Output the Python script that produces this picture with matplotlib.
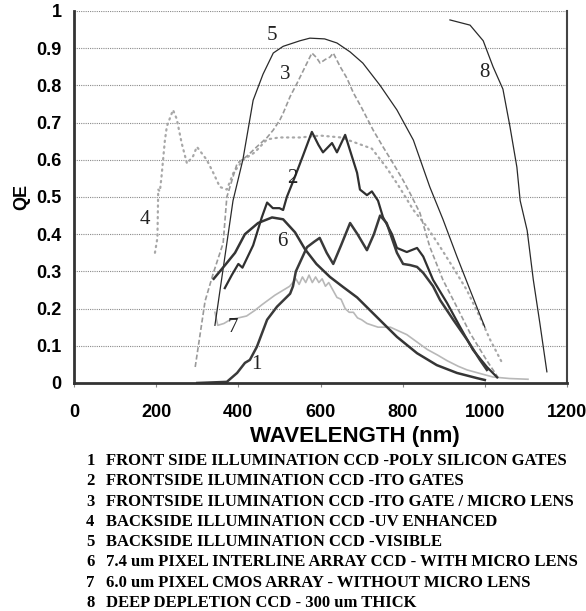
import numpy as np
import matplotlib.pyplot as plt

# valeurs (longueur d'onde en nm, QE)
nm1 = [300, 372, 397, 416, 428, 445, 470, 494, 526, 533, 540, 567, 585, 598, 615, 631, 650, 672, 690, 713, 730, 745, 761, 786, 801, 818, 835, 850, 874, 891, 923, 957, 988, 1005]
qe1 = [0.0, 0.003, 0.027, 0.054, 0.062, 0.097, 0.17, 0.205, 0.24, 0.26, 0.30, 0.365, 0.38, 0.39, 0.35, 0.32, 0.37, 0.43, 0.40, 0.357, 0.40, 0.45, 0.43, 0.35, 0.32, 0.317, 0.312, 0.296, 0.26, 0.223, 0.17, 0.116, 0.062, 0.035]

nm2 = [367, 384, 400, 410, 423, 436, 457, 470, 484, 500, 509, 518, 538, 557, 579, 595, 606, 628, 640, 660, 679, 689, 696, 713, 725, 740, 752, 774, 786, 810, 835, 850, 874, 908, 940, 971, 1005, 1030]
qe2 = [0.255, 0.29, 0.32, 0.31, 0.34, 0.37, 0.445, 0.485, 0.47, 0.47, 0.465, 0.5, 0.555, 0.61, 0.675, 0.64, 0.62, 0.645, 0.62, 0.667, 0.6, 0.565, 0.52, 0.505, 0.515, 0.49, 0.446, 0.40, 0.363, 0.352, 0.363, 0.34, 0.277, 0.215, 0.15, 0.089, 0.043, 0.015]

nm3 = [295, 319, 339, 363, 372, 397, 421, 445, 470, 485, 501, 509, 526, 543, 567, 579, 590, 599, 612, 623, 631, 648, 664, 680, 700, 728, 752, 777, 801, 818, 842, 866, 898, 932, 964, 1005, 1035]
qe3 = [0.043, 0.22, 0.295, 0.376, 0.5, 0.59, 0.61, 0.635, 0.66, 0.68, 0.707, 0.725, 0.77, 0.806, 0.86, 0.887, 0.875, 0.86, 0.87, 0.876, 0.887, 0.85, 0.82, 0.78, 0.74, 0.68, 0.635, 0.59, 0.545, 0.51, 0.457, 0.366, 0.277, 0.204, 0.134, 0.06, 0.01]

nm4 = [197, 203, 205, 209, 213, 221, 226, 241, 250, 262, 275, 290, 299, 323, 339, 355, 372, 388, 412, 440, 470, 500, 550, 600, 650, 700, 725, 760, 790, 826, 859, 891, 923, 956, 988, 1013, 1044]
qe4 = [0.35, 0.39, 0.52, 0.515, 0.555, 0.65, 0.69, 0.734, 0.71, 0.645, 0.59, 0.61, 0.635, 0.6, 0.565, 0.527, 0.52, 0.565, 0.6, 0.62, 0.655, 0.66, 0.66, 0.665, 0.66, 0.64, 0.63, 0.58, 0.53, 0.465, 0.42, 0.366, 0.31, 0.25, 0.177, 0.116, 0.05]

nm5 = [343, 387, 411, 436, 460, 485, 509, 550, 574, 610, 640, 672, 703, 745, 786, 826, 866, 898, 932, 964, 1000]
qe5 = [0.155, 0.49, 0.6, 0.76, 0.83, 0.887, 0.905, 0.92, 0.927, 0.925, 0.914, 0.89, 0.86, 0.80, 0.734, 0.653, 0.527, 0.44, 0.34, 0.25, 0.15]

nm6 = [340, 370, 392, 416, 448, 482, 509, 538, 562, 590, 623, 655, 689, 720, 752, 786, 835, 883, 932, 981, 1000]
qe6 = [0.28, 0.32, 0.35, 0.40, 0.43, 0.445, 0.44, 0.405, 0.36, 0.32, 0.285, 0.258, 0.23, 0.196, 0.161, 0.124, 0.08, 0.048, 0.027, 0.013, 0.008]

nm7 = [343, 350, 365, 380, 400, 420, 440, 457, 489, 525, 540, 548, 556, 564, 572, 580, 588, 596, 604, 612, 620, 630, 640, 650, 660, 670, 680, 690, 700, 713, 740, 770, 790, 810, 835, 860, 885, 908, 935, 957, 990, 1020, 1060, 1105]
qe7 = [0.19, 0.155, 0.16, 0.17, 0.175, 0.18, 0.195, 0.21, 0.236, 0.26, 0.28, 0.265, 0.285, 0.27, 0.29, 0.27, 0.285, 0.27, 0.28, 0.26, 0.27, 0.25, 0.23, 0.225, 0.20, 0.19, 0.19, 0.175, 0.17, 0.16, 0.15, 0.15, 0.14, 0.13, 0.11, 0.09, 0.075, 0.06, 0.045, 0.035, 0.025, 0.016, 0.012, 0.01]

nm8 = [915, 964, 996, 1020, 1044, 1061, 1078, 1086, 1103, 1118, 1134, 1151]
qe8 = [0.976, 0.962, 0.92, 0.85, 0.79, 0.69, 0.58, 0.49, 0.41, 0.277, 0.16, 0.03]

numeros = ["1", "2", "3", "4", "5", "6", "7", "8"]
pos_num = [(445, 0.05), (531, 0.55), (513, 0.83), (173, 0.44), (482, 0.935), (508, 0.38), (387, 0.148), (1000, 0.835)]

legende = ["FRONT SIDE ILLUMINATION CCD -POLY SILICON GATES",
           "FRONTSIDE ILUMINATION CCD -ITO GATES",
           "FRONTSIDE ILUMINATION CCD -ITO GATE / MICRO LENS",
           "BACKSIDE ILLUMINATION CCD -UV ENHANCED",
           "BACKSIDE ILLUMINATION CCD -VISIBLE",
           "7.4 um PIXEL INTERLINE ARRAY CCD - WITH MICRO LENS",
           "6.0 um PIXEL CMOS ARRAY - WITHOUT MICRO LENS",
           "DEEP DEPLETION CCD - 300 um THICK"]

xticks = [0, 200, 400, 600, 800, 1000, 1200]
yticks = [0, 0.1, 0.2, 0.3, 0.4, 0.5, 0.6, 0.7, 0.8, 0.9, 1]
ytick_labels = ["0", "0.1", "0.2", "0.3", "0.4", "0.5", "0.6", "0.7", "0.8", "0.9", "1"]

fig = plt.figure(figsize=(5.86, 6.11), dpi=100)
ax = fig.add_axes([0.1263, 0.3732, 0.8413, 0.6088])

# grille pointillee horizontale
for y in yticks[1:]:
    ax.axhline(y, color="#8a8a8a", lw=0.8, ls=(0, (1, 1)), zorder=0)

ax.plot(nm7, qe7, color="#b8b8b8", lw=1.2)
ax.plot(nm4, qe4, color="#a8a8a8", lw=1.6, ls=(0, (0.6, 2.0)), dash_capstyle="round")
ax.plot(nm3, qe3, color="#9a9a9a", lw=1.2, ls=(0, (3, 1.5)))
ax.plot(nm5, qe5, color="#2a2a2a", lw=0.9)
ax.plot(nm8, qe8, color="#2a2a2a", lw=0.9)
ax.plot(nm6, qe6, color="#353535", lw=1.8)
ax.plot(nm2, qe2, color="#303030", lw=1.6)
ax.plot(nm1, qe1, color="#3a3a3a", lw=1.8)

for n, (xx, yy) in zip(numeros, pos_num):
    ax.text(xx, yy, n, family="Liberation Serif", fontsize=15, ha="center", va="center", color="#222222")

ax.set_xlim(0, 1200)
ax.set_ylim(0, 1)
ax.set_xticks(xticks)
ax.set_xticklabels([str(v) for v in xticks], fontweight="bold", fontsize=13, family="Liberation Sans")
ax.set_yticks(yticks)
ax.set_yticklabels(ytick_labels, fontweight="bold", fontsize=13, family="Liberation Sans")
ax.tick_params(axis="x", length=3, pad=12, color="#888888")
ax.tick_params(axis="y", length=0, pad=9)

ax.spines["left"].set_linewidth(2.0)
ax.spines["bottom"].set_linewidth(2.0)
ax.spines["left"].set_color("#333333")
ax.spines["bottom"].set_color("#333333")
ax.spines["right"].set_linewidth(1.5)
ax.spines["right"].set_color("#444444")
ax.spines["top"].set_visible(False)

ax.set_ylabel("QE", fontweight="bold", fontsize=13, family="Liberation Sans", labelpad=4)
ax.set_xlabel("WAVELENGTH (nm)", fontweight="bold", fontsize=16, family="Liberation Sans", labelpad=6)
ax.xaxis.set_label_coords(0.57, -0.115)

y0 = 1 - 461 / 611.0
dy = 20.3 / 611.0
for i in range(len(legende)):
    fig.text(0.147, y0 - i * dy, numeros[i], family="Liberation Serif", fontweight="bold", fontsize=12, va="center")
    fig.text(0.181, y0 - i * dy, legende[i], family="Liberation Serif", fontweight="bold", fontsize=12, va="center")

fig.savefig("out.png", dpi=100)
